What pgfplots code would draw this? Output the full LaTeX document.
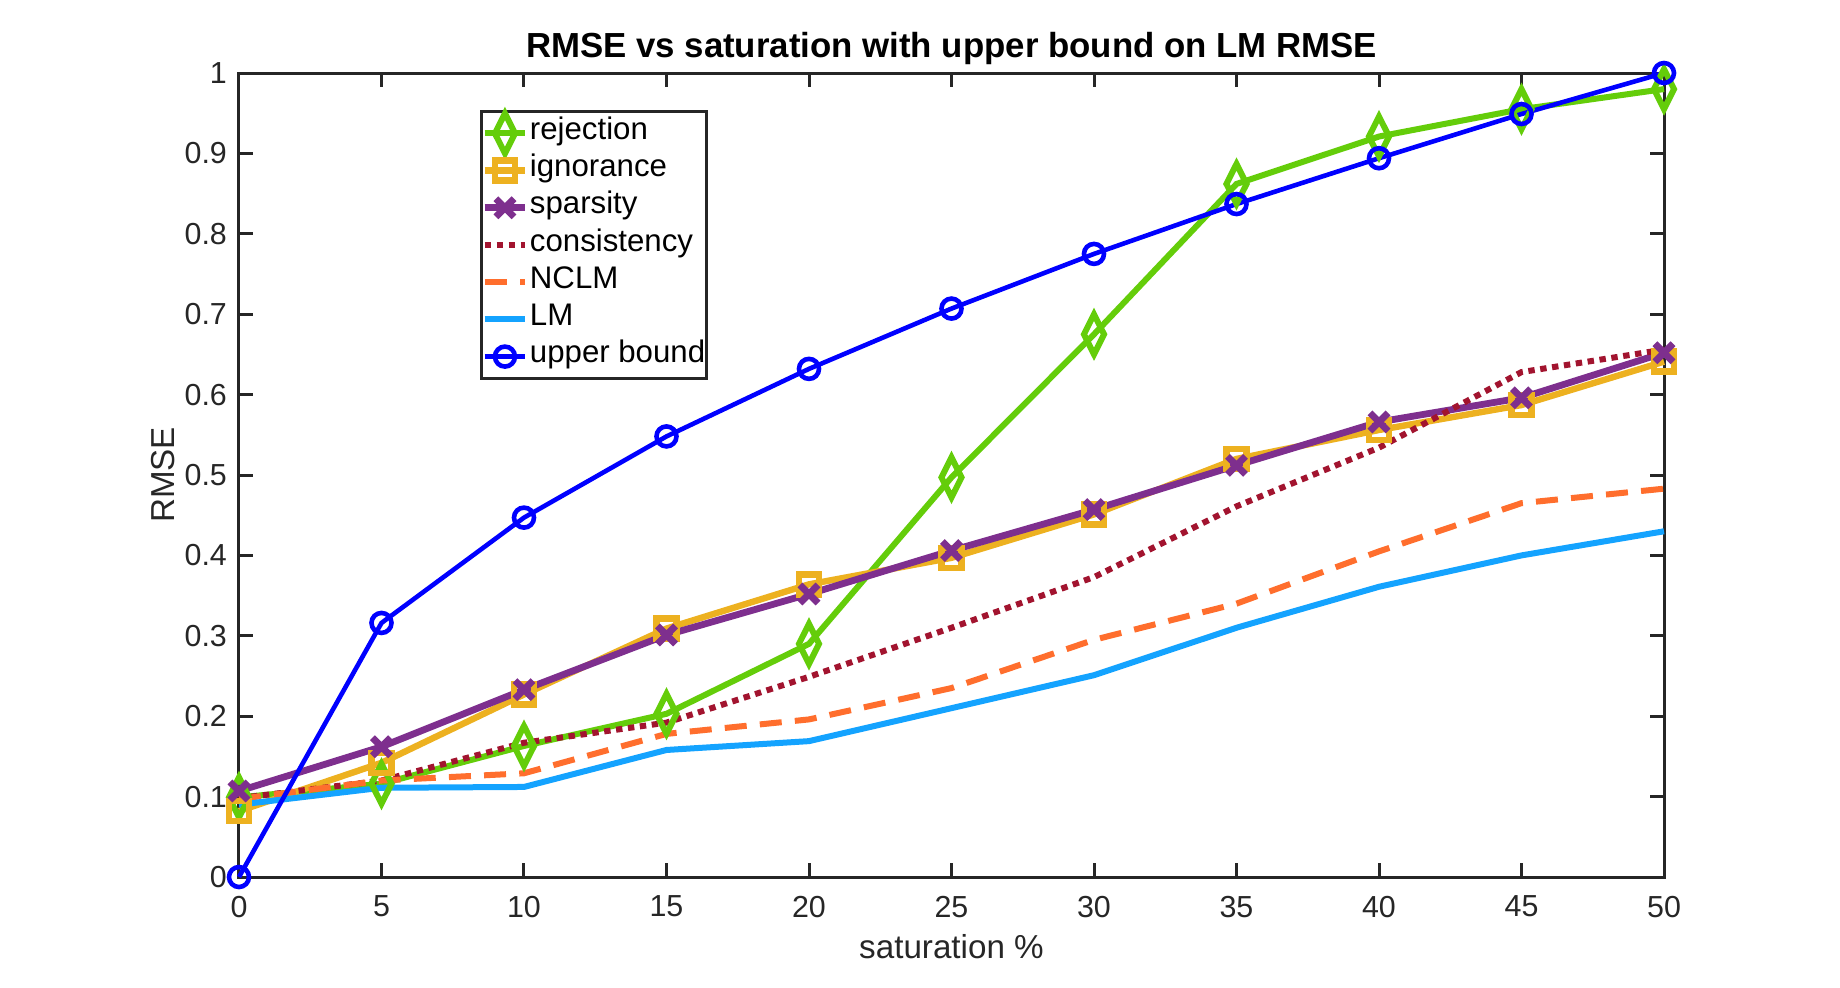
\documentclass[border=0pt]{standalone}
\usepackage{fontspec}
\setmainfont{Liberation Sans}
\usepackage{pgfplots}
\pgfplotsset{compat=1.18}
\definecolor{cRej}{RGB}{100,205,10}
\definecolor{cIgn}{RGB}{237,177,32}
\definecolor{cSpa}{RGB}{126,47,142}
\definecolor{cCon}{RGB}{162,20,47}
\definecolor{cNCLM}{RGB}{255,110,45}
\definecolor{cLM}{RGB}{20,163,255}
\definecolor{cUB}{RGB}{0,0,255}
\definecolor{axc}{RGB}{38,38,38}
\begin{document}
\begin{tikzpicture}
\useasboundingbox (-59.75pt,-27.5pt) rectangle (400.25pt,219.25pt);
\begin{axis}[
  at={(0pt,0pt)}, anchor=south west,
  scale only axis, width=356.25pt, height=201pt,
  xmin=0, xmax=50, ymin=0, ymax=1,
  clip=false,
  xtick={0,5,10,15,20,25,30,35,40,45,50},
  xticklabels={0,5,10,15,20,25,30,35,40,45,50},
  ytick={0,0.1,0.2,0.3,0.4,0.5,0.6,0.7,0.8,0.9,1},
  yticklabels={0,0.1,0.2,0.3,0.4,0.5,0.6,0.7,0.8,0.9,1},
  tick align=inside, major tick length=3.6pt,
  every tick/.style={axc, line width=0.75pt},
  axis line style={axc, line width=0.75pt},
  ticklabel style={font=\fontsize{7.6}{9}\selectfont, text=axc},
  xticklabel style={yshift=-1.2pt},
  yticklabel style={xshift=0.5pt},
  every axis title shift=0pt,
  title={RMSE vs saturation with upper bound on LM RMSE},
  title style={at={(0.5,1.0199)}, anchor=base, font=\fontsize{8.7}{10}\selectfont\bfseries, text=black},
  xlabel={saturation \%},
  xlabel style={at={(0.5,-0.1015)}, anchor=base, font=\fontsize{8.3}{10}\selectfont, text=axc},
  ylabel={RMSE},
  ylabel style={at={(-0.04561,0.5)}, anchor=base, font=\fontsize{8.3}{10}\selectfont, text=axc},
  legend cell align=left,
  legend style={at={(0.1691,0.954)}, anchor=north west, draw=axc, line width=0.8pt,
    font=\fontsize{7.8}{9}\selectfont, inner xsep=0pt, inner ysep=0.8pt, row sep=0pt,
    nodes={inner ysep=0pt, inner xsep=0.4pt, text height=6.2pt, text depth=3.1pt}},
  legend image code/.code={
    \draw[#1] (0pt,0pt) -- (10pt,0pt);
    \pgfinterruptboundingbox
    \draw[mark repeat=2, mark phase=2, #1] plot coordinates {(0pt,0pt) (5pt,0pt) (10pt,0pt)};
    \endpgfinterruptboundingbox
  },
]
\addplot[cRej, line width=1.5pt, mark=diamond, mark size=5pt, mark options={solid, xscale=0.67}] coordinates {
(0,0.099)(5,0.116)(10,0.163)(15,0.203)(20,0.290)(25,0.497)(30,0.675)(35,0.862)(40,0.921)(45,0.955)(50,0.980)};
\addlegendentry{rejection}
\addplot[cIgn, line width=1.6pt, mark=square, mark size=2.5pt, mark options={solid}] coordinates {
(0,0.082)(5,0.142)(10,0.227)(15,0.309)(20,0.364)(25,0.397)(30,0.451)(35,0.520)(40,0.556)(45,0.587)(50,0.641)};
\addlegendentry{ignorance}
\addplot[cSpa, line width=1.7pt, mark=x, mark size=3.2pt, mark options={solid}] coordinates {
(0,0.107)(5,0.162)(10,0.233)(15,0.301)(20,0.352)(25,0.406)(30,0.457)(35,0.512)(40,0.566)(45,0.596)(50,0.652)};
\addlegendentry{sparsity}
\addplot[cCon, line width=1.5pt, dash pattern=on 1.6pt off 1.4pt] coordinates {
(0,0.098)(5,0.120)(10,0.167)(15,0.192)(20,0.249)(25,0.310)(30,0.373)(35,0.461)(40,0.534)(45,0.628)(50,0.656)};
\addlegendentry{consistency}
\addplot[cNCLM, line width=1.5pt, dash pattern=on 5.5pt off 3.3pt] coordinates {
(0,0.097)(5,0.120)(10,0.129)(15,0.178)(20,0.196)(25,0.235)(30,0.295)(35,0.340)(40,0.405)(45,0.465)(50,0.483)};
\addlegendentry{NCLM}
\addplot[cLM, line width=1.5pt] coordinates {
(0,0.090)(5,0.111)(10,0.112)(15,0.158)(20,0.169)(25,0.210)(30,0.251)(35,0.310)(40,0.361)(45,0.400)(50,0.430)};
\addlegendentry{LM}
\addplot[cUB, line width=1.15pt, mark=o, mark size=2.5pt, mark options={solid}] coordinates {
(0,0)(5,0.316)(10,0.447)(15,0.548)(20,0.632)(25,0.707)(30,0.775)(35,0.837)(40,0.894)(45,0.949)(50,1)};
\addlegendentry{upper bound}
\end{axis}
\end{tikzpicture}
\end{document}
